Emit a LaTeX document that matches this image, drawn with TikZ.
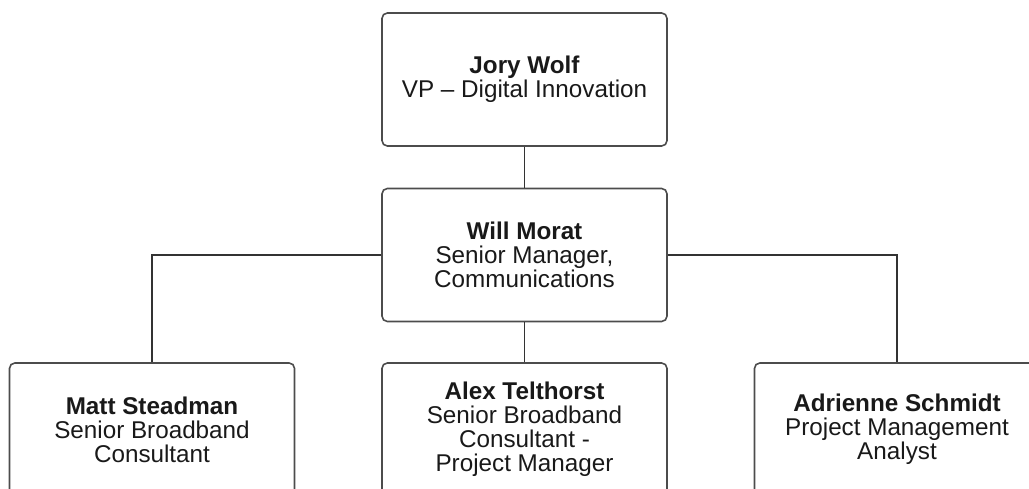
\documentclass[tikz,border=0pt]{standalone}
\usepackage{fontspec}
\setmainfont{Liberation Sans}
\usetikzlibrary{positioning}

\begin{document}
\begin{tikzpicture}[x=0.02cm,y=-0.02cm,
  person/.style={draw=black!70,line width=0.9pt,rounded corners=3pt,
    minimum width=5.7cm,minimum height=2.66cm,align=center,
    text=black!90,font=\fontsize{13.8}{13.7}\selectfont},
  link/.style={draw=black!80,line width=0.95pt}]
  \useasboundingbox (0,0) rectangle (1029,489);
  \clip (0,0) rectangle (1029,489);
  \node[person] (jory) at (524.5,79.5) {\textbf{Jory Wolf}\\VP – Digital Innovation};
  \node[person] (will) at (524.5,255) {\textbf{Will Morat}\\Senior Manager,\\Communications};
  \foreach \x/\n/\s in {152/matt/{\textbf{Matt Steadman}\\Senior Broadband\\Consultant},
                        524.5/alex/{\textbf{Alex Telthorst}\\Senior Broadband\\Consultant -\\Project Manager},
                        897/adrienne/{\textbf{Adrienne Schmidt}\\Project Management\\Analyst}}
  {
    \node[person] (\n) at (\x,429.5) {\s};
  }
  \draw[link] (jory) -- (will);
  \draw[link] (will) -- (alex);
  \draw[link] (will.west) -| (matt);
  \draw[link] (will.east) -| (adrienne);
\end{tikzpicture}
\end{document}
